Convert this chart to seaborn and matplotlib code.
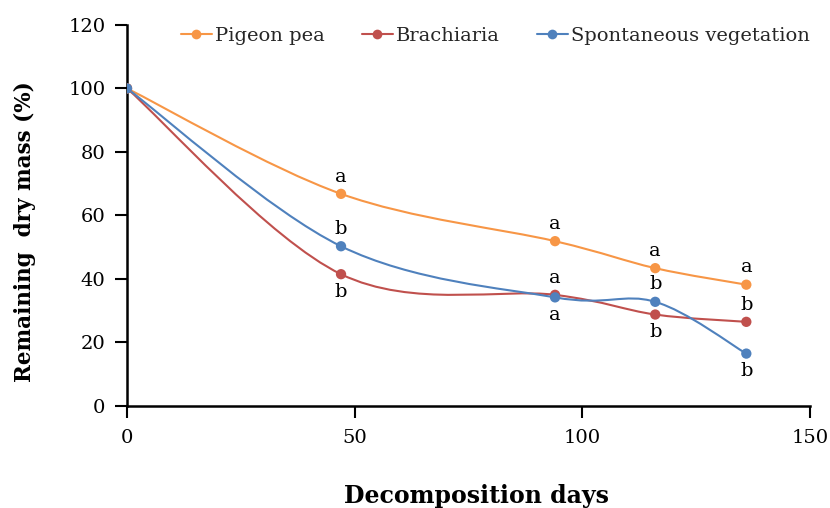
import numpy as np
import pandas as pd
import matplotlib
matplotlib.use("Agg")
import matplotlib.pyplot as plt
from matplotlib.path import Path
from matplotlib.patches import PathPatch
from matplotlib.lines import Line2D
import seaborn as sns

days = [0, 47, 94, 116, 136]
pigeon_pea = [100, 66.8, 51.9, 43.4, 38.2]
brachiaria = [100, 41.5, 35.0, 28.8, 26.5]
spontaneous = [100, 50.3, 34.2, 32.8, 16.5]
series_names = ["Pigeon pea", "Brachiaria", "Spontaneous vegetation"]
letters_pigeon = ["", "a", "a", "a", "a"]
letters_brach = ["", "b", "a", "b", "b"]
letters_spont = ["", "b", "a", "b", "b"]
# +1 above, -1 below
pos_brach = [0, -1, 1, -1, 1]
pos_spont = [0, 1, -1, 1, -1]
pos_pigeon = [0, 1, 1, 1, 1]
x_ticks = [0, 50, 100, 150]
y_ticks = [0, 20, 40, 60, 80, 100, 120]

colors = {"Pigeon pea": "#F79646", "Brachiaria": "#C0504D",
          "Spontaneous vegetation": "#4F81BD"}

df = pd.DataFrame({
    "day": days * 3,
    "mass": pigeon_pea + brachiaria + spontaneous,
    "series": [n for n in series_names for _ in days],
})

sns.set_theme(style="white")
plt.rcParams["font.family"] = ["DejaVu Serif"]

fig = plt.figure(figsize=(8.3, 5.08), dpi=100)
ax = fig.add_axes([0.153, 0.2008, 0.823, 0.7502])


def smooth_path(xs, ys):
    pts = np.column_stack([xs, ys]).astype(float)
    n = len(pts)
    verts = [pts[0]]
    codes = [Path.MOVETO]
    for i in range(n - 1):
        p0 = pts[i - 1] if i > 0 else pts[i]
        p1 = pts[i]
        p2 = pts[i + 1]
        p3 = pts[i + 2] if i + 2 < n else pts[i + 1]
        c1 = p1 + (p2 - p0) / 6.0
        c2 = p2 - (p3 - p1) / 6.0
        verts += [c1, c2, p2]
        codes += [Path.CURVE4] * 3
    return Path(verts, codes)


for name, vals in zip(series_names, [pigeon_pea, brachiaria, spontaneous]):
    ax.add_patch(PathPatch(smooth_path(days, vals), facecolor="none",
                           edgecolor=colors[name], lw=1.5, zorder=2))

sns.scatterplot(data=df, x="day", y="mass", hue="series", palette=colors,
                s=55, edgecolor="none", zorder=3, ax=ax, legend=False)

handles = [Line2D([0], [0], color=colors[n], lw=1.5, marker="o", markersize=7,
                  markeredgewidth=0) for n in series_names]
ax.legend(handles, series_names, loc="center", bbox_to_anchor=(0.539, 0.971),
          ncol=3, frameon=False, fontsize=14, handlelength=1.6, handletextpad=0.15,
          columnspacing=1.9, borderpad=0)

for vals, labs, poss in [(pigeon_pea, letters_pigeon, pos_pigeon),
                         (brachiaria, letters_brach, pos_brach),
                         (spontaneous, letters_spont, pos_spont)]:
    for d, v, l, p in zip(days, vals, labs, poss):
        if not l:
            continue
        ax.annotate(l, (d, v), xytext=(0, 6 * p), textcoords="offset points",
                    ha="center", va="bottom" if p > 0 else "top", fontsize=14,
                    color="black")

ax.set_xlim(0, 150)
ax.set_ylim(0, 120)
ax.set_xticks(x_ticks)
ax.set_yticks(y_ticks)
ax.tick_params(axis="both", direction="out", length=8.5, width=1.5,
               labelsize=14, colors="black", bottom=True, left=True)
ax.tick_params(axis="x", pad=8)
ax.tick_params(axis="y", pad=7)
for s in ["top", "right"]:
    ax.spines[s].set_visible(False)
for s in ["left", "bottom"]:
    ax.spines[s].set_color("black")
    ax.spines[s].set_linewidth(1.8)
ax.grid(False)
ax.set_xlabel("Decomposition days", fontsize=17, fontweight="bold", color="black")
ax.xaxis.set_label_coords(0.512, -0.205)
ax.set_ylabel("Remaining  dry mass (%)", fontsize=15.5, fontweight="bold",
              color="black")
ax.yaxis.set_label_coords(-0.133, 0.457)

fig.savefig("out.png", dpi=100)
